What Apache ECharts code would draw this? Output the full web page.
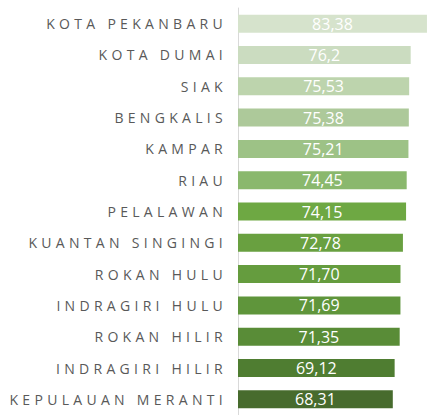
<!DOCTYPE html>
<html>
<head>
<meta charset="utf-8">
<script src="https://cdn.jsdelivr.net/npm/echarts@6/dist/echarts.min.js"></script>
<style>
  html, body { margin: 0; padding: 0; background: #fff; }
  #main { width: 427px; height: 415px; }
  /* region names are spaced out like in the spreadsheet original */
  #main text[text-anchor="end"] { letter-spacing: 4.3px; }
</style>
</head>
<body>
<div id="main"></div>
<script>
var regions = [
  "KOTA PEKANBARU", "KOTA DUMAI", "SIAK", "BENGKALIS", "KAMPAR", "RIAU",
  "PELALAWAN", "KUANTAN SINGINGI", "ROKAN HULU", "INDRAGIRI HULU",
  "ROKAN HILIR", "INDRAGIRI HILIR", "KEPULAUAN MERANTI"
];
var scores = [83.38, 76.2, 75.53, 75.38, 75.21, 74.45, 74.15, 72.78, 71.70, 71.69, 71.35, 69.12, 68.31];
var scoreLabels = ["83,38", "76,2", "75,53", "75,38", "75,21", "74,45", "74,15", "72,78", "71,70", "71,69", "71,35", "69,12", "68,31"];

// light to dark green, top to bottom
var barColors = [
  "#d6e3cc", "#cbdcc0", "#bdd4ad", "#adc99a", "#9dc286", "#8ab86d", "#6ea843",
  "#69a040", "#659c3e", "#5f953b", "#598c37", "#4f7d31", "#476b2d"
];

var myChart = echarts.init(document.getElementById("main"), null, { renderer: "svg" });

var option = {
  animation: false,
  grid: {
    left: 238,
    right: 0,
    top: 8,
    height: 415
  },
  xAxis: {
    type: "value",
    min: 0,
    max: 83.4,
    show: false
  },
  yAxis: {
    type: "category",
    inverse: true,
    data: regions,
    axisLine: { lineStyle: { color: "#d9d9d9", width: 1 } },
    axisTick: { show: false },
    axisLabel: {
      margin: 11,
      color: "#595959",
      fontFamily: "Open Sans",
      fontSize: 14
    }
  },
  series: [
    {
      type: "bar",
      barWidth: 18,
      data: scores.map(function (v, i) {
        return { value: v, itemStyle: { color: barColors[i] } };
      }),
      label: {
        show: true,
        position: "inside",
        color: "#ffffff",
        fontFamily: "Open Sans",
        fontSize: 16,
        formatter: function (p) {
          return scoreLabels[p.dataIndex];
        }
      }
    }
  ]
};

myChart.setOption(option);
</script>
</body>
</html>
